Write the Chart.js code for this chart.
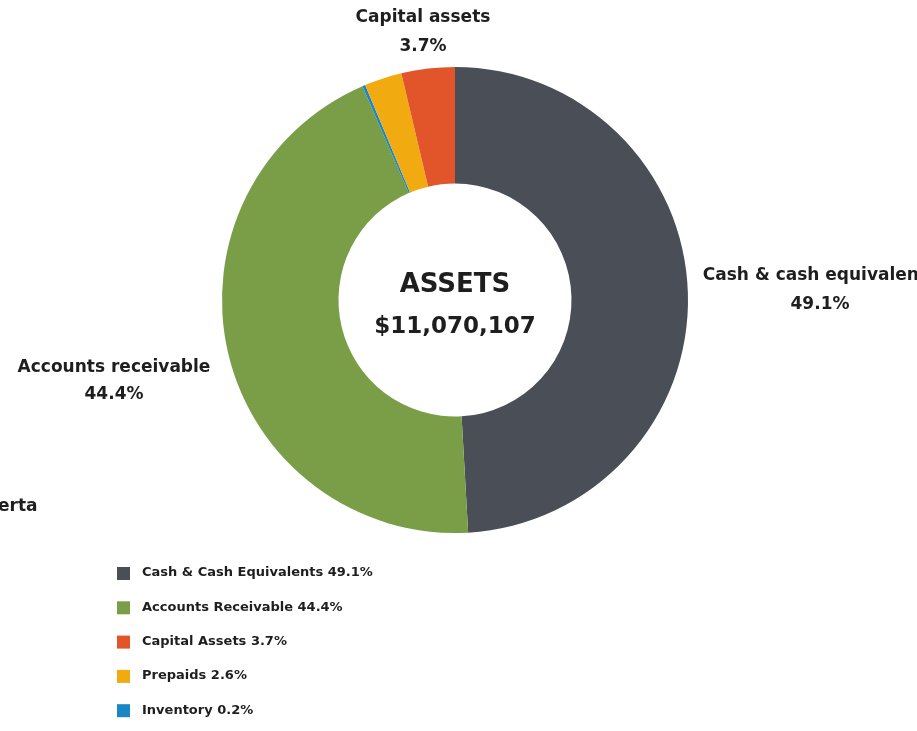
<!DOCTYPE html>
<html>
<head>
<meta charset="utf-8">
<script src="https://cdn.jsdelivr.net/npm/chart.js@4.4.1/dist/chart.umd.min.js"></script>
<style>
  html, body { margin: 0; padding: 0; background: #fff; overflow: hidden; }
  #wrap { position: relative; width: 917px; height: 731px; }
</style>
</head>
<body>
<div id="wrap"><canvas id="c" width="917" height="731"></canvas></div>
<script>
// data, in drawing order (clockwise from 12 o'clock)
const labels = ["Cash & Cash Equivalents", "Accounts Receivable", "Inventory", "Prepaids", "Capital Assets"];
const values = [49.1, 44.4, 0.2, 2.6, 3.7];
const legendOrder = [0, 1, 4, 3, 2];
const centerTitle = "ASSETS";
const centerTotal = "$11,070,107";

// callout texts around the ring
const callouts = [
  { idx: 4, name: "Capital assets" },
  { idx: 0, name: "Cash & cash equivalents" },
  { idx: 1, name: "Accounts receivable" },
];

const colors = ["#4a4e56", "#7a9e48", "#1b86c6", "#f1ab10", "#e2552b"];
const FONT = '"DejaVu Sans", "Open Sans", sans-serif';

const textPlugin = {
  id: "texts",
  afterDraw(chart) {
    const ctx = chart.ctx;
    const meta = chart.getDatasetMeta(0);
    const arc = meta.data[0];
    const cx = arc.x, cy = arc.y;
    ctx.save();
    ctx.fillStyle = "#1e1e1e";
    ctx.textAlign = "center";
    ctx.textBaseline = "middle";

    // centre
    ctx.font = "700 26px " + FONT;
    ctx.fillText(centerTitle, cx, cy - 15);
    ctx.font = "700 23px " + FONT;
    ctx.fillText(centerTotal, cx, cy + 27);

    // callouts
    const pos = [[423, 18, 47], [820, 276, 305], [114, 368, 395]];
    ctx.font = "700 17px " + FONT;
    callouts.forEach((c, i) => {
      const p = pos[i];
      ctx.fillText(c.name, p[0], p[1]);
      ctx.fillText(values[c.idx].toFixed(1) + "%", p[0], p[2]);
    });
    ctx.textAlign = "left";
    ctx.fillText("erta", -2, 507);

    // legend
    ctx.font = "700 13px " + FONT;
    legendOrder.forEach((k, i) => {
      const y = 573 + i * 34.3;
      ctx.fillStyle = colors[k];
      ctx.fillRect(117, y - 6, 13, 13);
      ctx.fillStyle = "#1e1e1e";
      ctx.fillText(labels[k] + " " + values[k].toFixed(1) + "%", 142, y);
    });
    ctx.restore();
  }
};

new Chart(document.getElementById("c"), {
  type: "doughnut",
  data: {
    labels: labels,
    datasets: [{
      data: values,
      backgroundColor: colors,
      borderWidth: 0,
    }],
  },
  options: {
    responsive: false,
    animation: false,
    cutout: "50%",
    layout: { padding: { top: 67, bottom: 198, left: 222, right: 229 } },
    plugins: {
      legend: { display: false },
      tooltip: { enabled: false },
    },
  },
  plugins: [textPlugin],
});
</script>
</body>
</html>
